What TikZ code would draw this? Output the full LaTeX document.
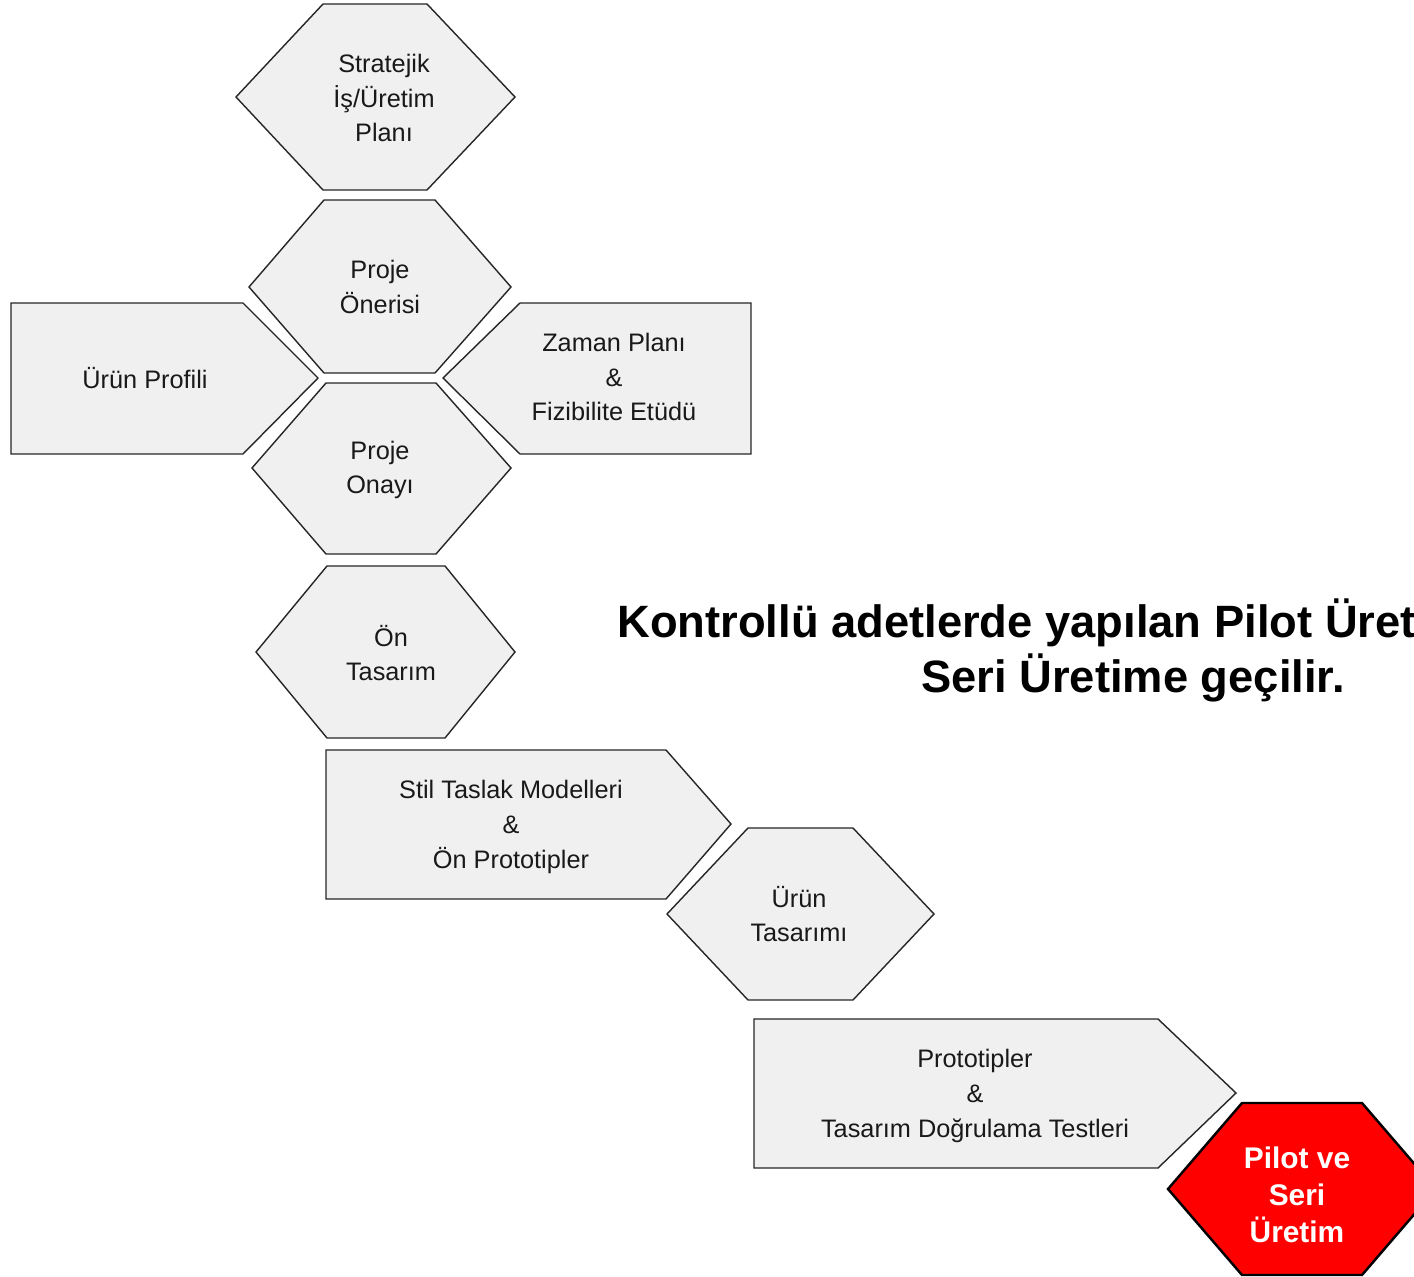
\documentclass[tikz,border=0pt]{standalone}
\usepackage{fontspec}
\setmainfont{Liberation Sans}
\begin{document}
\begin{tikzpicture}[x=0.02cm,y=-0.02cm,
  box/.style={draw=black!85, line width=0.8pt, fill=black!6, line join=miter},
  redbox/.style={draw=black, line width=1.4pt, fill=red, line join=miter},
  lbl/.style={align=center, font=\fontsize{14.4}{19.8}\selectfont, text=black!90, inner sep=0pt},
  redlbl/.style={align=center, font=\fontsize{17}{21}\selectfont\bfseries, text=white, inner sep=0pt},
  big/.style={font=\fontsize{25.8}{31}\selectfont\bfseries, text=black, inner sep=0pt}]
\useasboundingbox (0,0) rectangle (1414,1277);
\clip (0,0) rectangle (1414,1277);
\fill[white] (0,0) rectangle (1414,1277);

% shapes
\draw[box] (323,4) -- (427,4) -- (515,97) -- (427,190) -- (323,190) -- (236,97) -- cycle;
\draw[box] (324,200) -- (435,200) -- (511,287) -- (435,373) -- (324,373) -- (249,287) -- cycle;
\draw[box] (11,303) -- (243,303) -- (318,378) -- (243,454) -- (11,454) -- cycle;
\draw[box] (520,303) -- (751,303) -- (751,454) -- (520,454) -- (443,378) -- cycle;
\draw[box] (326,383) -- (436,383) -- (511,468) -- (436,554) -- (326,554) -- (252,468) -- cycle;
\draw[box] (327,566) -- (445,566) -- (515,652) -- (445,738) -- (327,738) -- (256,652) -- cycle;
\draw[box] (326,750) -- (666,750) -- (731,824) -- (666,899) -- (326,899) -- cycle;
\draw[box] (748,828) -- (853,828) -- (934,914) -- (853,1000) -- (748,1000) -- (667,914) -- cycle;
\draw[box] (754,1019) -- (1158,1019) -- (1236,1093) -- (1158,1168) -- (754,1168) -- cycle;
\draw[redbox] (1242,1103) -- (1362,1103) -- (1436,1189) -- (1362,1275) -- (1242,1275) -- (1168,1189) -- cycle;

% labels
\node[lbl] (stratejik) at (384,98) {Stratejik\\ İş/Üretim\\ Planı};
\node[lbl] (oneri) at (380,287) {Proje\\ Önerisi};
\node[lbl] (profil) at (145,378) {Ürün Profili};
\node[lbl] (zaman) at (614,377) {Zaman Planı\\ \&\\ Fizibilite Etüdü};
\node[lbl] (onay) at (380,470) {Proje\\ Onayı};
\node[lbl] (ontasarim) at (391,653) {Ön\\ Tasarım};
\node[lbl] (stil) at (511,827) {Stil Taslak Modelleri\\ \&\\ Ön Prototipler};
\node[lbl] (uruntasarim) at (799,914) {Ürün\\ Tasarımı};
\node[lbl] (prototip) at (975,1096) {Prototipler\\ \&\\ Tasarım Doğrulama Testleri};
\node[redlbl] (pilot) at (1297,1195) {Pilot ve\\ Seri\\ Üretim};

\node[big, anchor=base west] (line1) at (617,637) {Kontrollü adetlerde yapılan Pilot Üret};
\node[big, anchor=base] (line2) at (1133,692) {Seri Üretime geçilir.};
\end{tikzpicture}
\end{document}
